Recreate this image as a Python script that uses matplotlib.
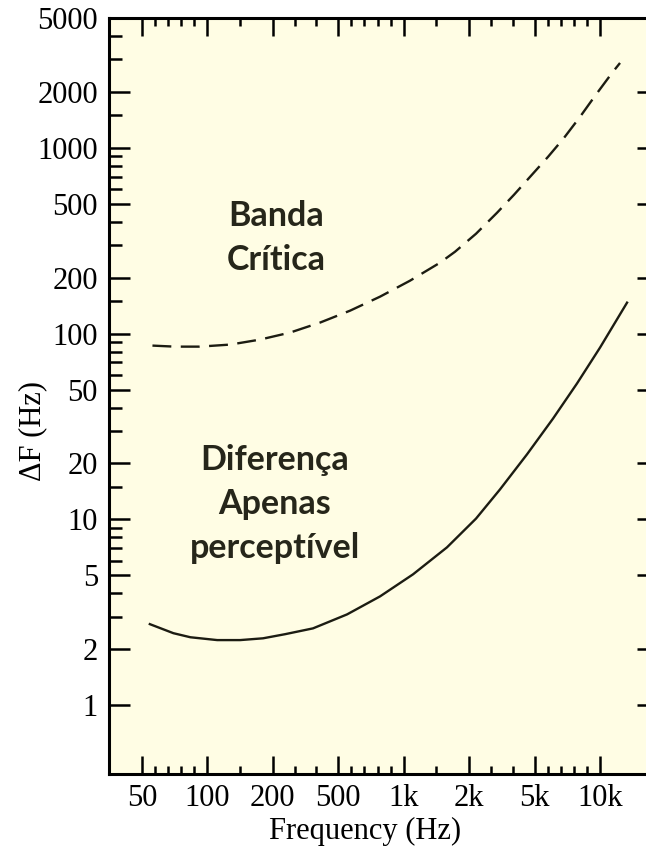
import numpy as np
import matplotlib
matplotlib.use("Agg")
import matplotlib.pyplot as plt

# frequency tick values and their labels (axis is evenly spaced between them)
x_major = [50, 100, 200, 500, 1000, 2000, 5000, 10000]
x_labels = ["50", "100", "200", "500", "1k", "2k", "5k", "10k"]
x_minor = [60, 70, 80, 90, 150, 300, 400, 600, 700, 800, 900,
           1500, 3000, 4000, 6000, 7000, 8000, 9000]

y_major = [1, 2, 5, 10, 20, 50, 100, 200, 500, 1000, 2000, 5000]
y_minor = [3, 4, 6, 7, 8, 9, 15, 30, 40, 60, 70, 80, 90, 150, 300, 400,
           600, 700, 800, 900, 1500, 3000, 4000]

# critical band (dashed)
cb_freq = [58, 75, 94, 135, 180, 279, 416, 590, 819, 1096, 1554, 1784, 2315,
           3277, 4055, 4835, 6025, 7250, 8470, 9617, 10917, 11528]
cb_df = [86.2, 85.1, 85.1, 87.3, 92.8, 101.3, 114.6, 132.9, 158.1, 192.7, 240.8,
         275.9, 344.9, 447.2, 558.9, 707.2, 894.4, 1132, 1468, 1904, 2531, 2864]

# just noticeable difference (solid)
jnd_freq = [56, 74, 87, 115, 150, 185, 256, 384, 567, 819, 1142, 1661, 2315,
            3414, 4653, 6410, 8240, 10000, 12065]
jnd_df = [2.73, 2.44, 2.32, 2.24, 2.24, 2.29, 2.41, 2.59, 3.08, 3.85, 5.06,
          7.07, 10.1, 14.5, 22.4, 34.9, 53.9, 84.1, 146.8]

# piecewise scale: each labelled frequency one unit apart
xp = [0] + x_major + [1e6]
fp = [-1] + list(range(len(x_major))) + [len(x_major) - 1 + (1e6 - 10000) / 5000]

def fwd(f):
    return np.interp(f, xp, fp)

def inv(u):
    return np.interp(u, fp, xp)

ink = "#1c1c12"
serif = ["Liberation Serif", "DejaVu Serif"]

fig = plt.figure(figsize=(6.46, 8.48), dpi=100)
ax = fig.add_axes([109/646, 74/848, 549/646, 756/848])
ax.set_facecolor("#fffde4")

ax.set_xscale("function", functions=(fwd, inv))
ax.set_yscale("log")
ax.set_xlim(24.8, 14430)
ax.set_ylim(0.426, 5000)

ax.plot(cb_freq, cb_df, color=ink, lw=1.7, dashes=(8, 4))
ax.plot(jnd_freq, jnd_df, color=ink, lw=1.7)

ax.set_xticks(x_major)
ax.set_xticklabels(x_labels)
ax.set_xticks(x_minor, minor=True)
ax.set_yticks(y_major)
ax.set_yticklabels([str(v) for v in y_major])
ax.set_yticks(y_minor, minor=True)
ax.yaxis.set_minor_formatter(plt.NullFormatter())
ax.xaxis.set_minor_formatter(plt.NullFormatter())

ax.xaxis.set_tick_params(which="major", direction="in", top=True, length=13, width=1.8, pad=7)
ax.xaxis.set_tick_params(which="minor", direction="in", top=True, length=6, width=1.8)
ax.yaxis.set_tick_params(which="major", direction="in", right=True, length=15, width=1.8, pad=8)
ax.yaxis.set_tick_params(which="minor", direction="in", right=False, length=9.5, width=1.8)
for lab in ax.get_xticklabels() + ax.get_yticklabels():
    lab.set_family(serif)
    lab.set_fontsize(22)

for s in ax.spines.values():
    s.set_linewidth(2.2)

ax.set_xlabel("Frequency (Hz)", family=serif, fontsize=22)
ax.xaxis.set_label_coords((365 - 109) / 549, (774 - 817) / 756)
ax.set_ylabel("ΔF (Hz)", family=serif, fontsize=22)
ax.yaxis.set_label_coords((47 - 109) / 549, (774 - 431) / 756)

ax.text((276 - 109) / 549, (774 - 238) / 756, "Banda\nCrítica", transform=ax.transAxes,
        ha="center", va="center", fontsize=24.5, fontweight="bold", family="Lato",
        color="#26261a", linespacing=1.45)
ax.text((275 - 109) / 549, (774 - 504) / 756, "Diferença\nApenas\nperceptível",
        transform=ax.transAxes, ha="center", va="center", fontsize=24.5,
        fontweight="bold", family="Lato", color="#26261a", linespacing=1.45)

fig.savefig("out.png", dpi=100)
